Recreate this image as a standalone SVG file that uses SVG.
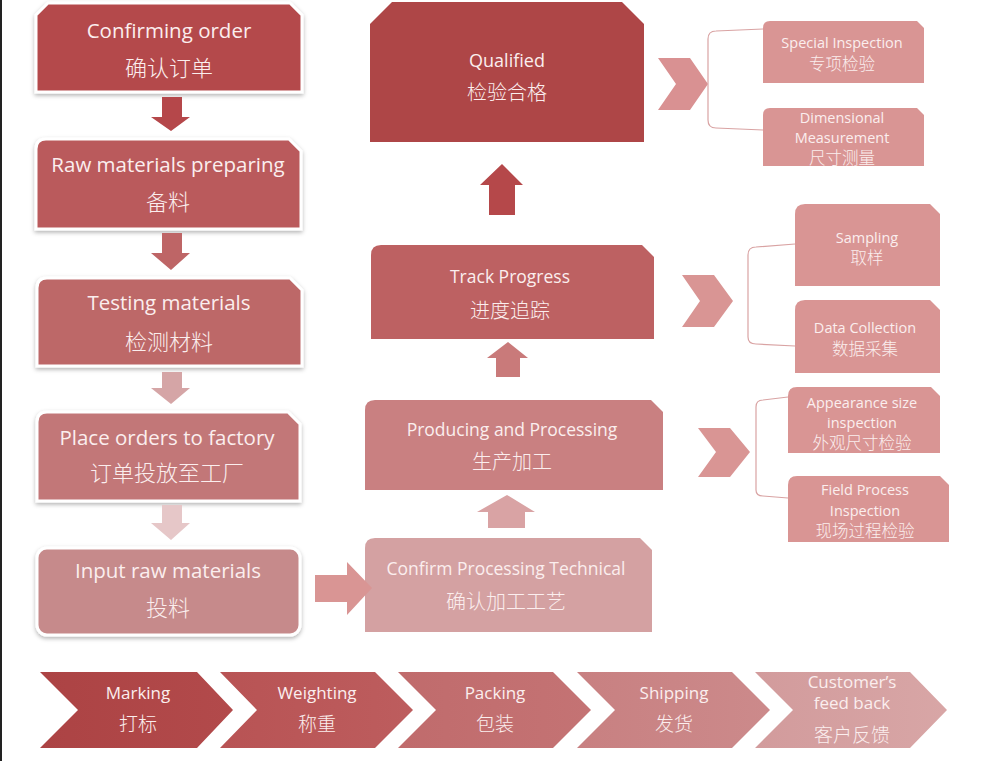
<svg xmlns="http://www.w3.org/2000/svg" width="1000" height="761" viewBox="0 0 1000 761">
<style>
.en{font-family:"Open Sans","Liberation Sans",sans-serif;fill:#FBEEEE;text-anchor:middle}
.zh{font-family:"Noto Sans CJK SC","Noto Sans",sans-serif;fill:#FBEEEE;text-anchor:middle;font-weight:300}
.sm{font-size:14.5px}
.lb{stroke:#FFFFFF;stroke-width:3;filter:url(#sh)}
.br{fill:none;stroke:#D9A3A3;stroke-width:1.2}
</style>
<defs>
<filter id="sh" x="-10%" y="-10%" width="120%" height="130%">
<feDropShadow dx="0" dy="2" stdDeviation="2" flood-color="#000" flood-opacity="0.3"/>
</filter>
<linearGradient id="g1" x1="0" x2="1" y1="0" y2="0"><stop offset="0" stop-color="#AC4344"/><stop offset="1" stop-color="#B24A4B"/></linearGradient>
<linearGradient id="g2" x1="0" x2="1" y1="0" y2="0"><stop offset="0" stop-color="#B85354"/><stop offset="1" stop-color="#BD5D5E"/></linearGradient>
<linearGradient id="g3" x1="0" x2="1" y1="0" y2="0"><stop offset="0" stop-color="#C06B6C"/><stop offset="1" stop-color="#C47374"/></linearGradient>
<linearGradient id="g4" x1="0" x2="1" y1="0" y2="0"><stop offset="0" stop-color="#C88081"/><stop offset="1" stop-color="#CC8A8B"/></linearGradient>
<linearGradient id="g5" x1="0" x2="1" y1="0" y2="0"><stop offset="0" stop-color="#D29B9C"/><stop offset="1" stop-color="#D8A6A6"/></linearGradient>
</defs>
<rect x="0" y="0" width="1000" height="761" fill="#FFFFFF"/>
<rect x="0" y="0" width="2" height="761" fill="#222222"/>

<!-- left column -->
<g id="confirming-order">
<path class="lb" d="M48,3 L290,3 L302,15 L302,92 L36,92 L36,15 Z" fill="#B44A4C"/>
<text class="en" x="169" y="38" font-size="20.5">Confirming order</text>
<text class="zh" x="169" y="76" font-size="22">确认订单</text>
</g>
<g id="raw-materials">
<path class="lb" d="M46,139 L289,139 L301,151 L301,229 L36,229 L36,149 Q36,139 46,139 Z" fill="#BA5A5B"/>
<text class="en" x="168" y="172" font-size="20.5">Raw materials preparing</text>
<text class="zh" x="168" y="210" font-size="22">备料</text>
</g>
<g id="testing-materials">
<path class="lb" d="M47,278 L290,278 L302,290 L302,366 L37,366 L37,288 Q37,278 47,278 Z" fill="#BD6768"/>
<text class="en" x="169" y="310" font-size="20.5">Testing materials</text>
<text class="zh" x="169" y="350" font-size="22">检测材料</text>
</g>
<g id="place-orders">
<path class="lb" d="M47,412 L288,412 L300,424 L300,501 L37,501 L37,422 Q37,412 47,412 Z" fill="#C27778"/>
<text class="en" x="167" y="445" font-size="20.5">Place orders to factory</text>
<text class="zh" x="167" y="481" font-size="22">订单投放至工厂</text>
</g>
<g id="input-raw">
<rect class="lb" x="37" y="548" width="263" height="87" rx="10" fill="#C68A8B"/>
<text class="en" x="168" y="578" font-size="20.5">Input raw materials</text>
<text class="zh" x="168" y="616" font-size="22">投料</text>
</g>

<!-- middle column -->
<g id="qualified">
<path d="M392,2 L622,2 L644,24 L644,142 L370,142 L370,24 Z" fill="#AE4647"/>
<text class="en" x="507" y="67" font-size="18">Qualified</text>
<text class="zh" x="507" y="100" font-size="20">检验合格</text>
</g>
<g id="track-progress">
<path d="M381,245 L642,245 L654,257 L654,339 L371,339 L371,255 Q371,245 381,245 Z" fill="#BD6162"/>
<text class="en" x="510" y="283" font-size="17.5">Track Progress</text>
<text class="zh" x="510" y="318" font-size="20">进度追踪</text>
</g>
<g id="producing">
<path d="M375,400 L651,400 L663,412 L663,490 L365,490 L365,410 Q365,400 375,400 Z" fill="#C98081"/>
<text class="en" x="512" y="436" font-size="17.5">Producing and Processing</text>
<text class="zh" x="512" y="469" font-size="20">生产加工</text>
</g>
<g id="confirm-processing">
<path d="M375,538 L640,538 L652,550 L652,632 L365,632 L365,548 Q365,538 375,538 Z" fill="#D4A1A2"/>
<text class="en" x="506" y="575" font-size="17.5">Confirm Processing Technical</text>
<text class="zh" x="506" y="609" font-size="20">确认加工工艺</text>
</g>

<!-- right column -->
<g id="special-inspection">
<path d="M770,21 L917,21 L924,28 L924,83 L763,83 L763,28 Q763,21 770,21 Z" fill="#D99594"/>
<text class="en sm" x="842" y="48">Special Inspection</text>
<text class="zh" x="842" y="70" font-size="16.5">专项检验</text>
</g>
<g id="dimensional-measurement">
<path d="M770,108 L917,108 L924,115 L924,166 L763,166 L763,115 Q763,108 770,108 Z" fill="#D99594"/>
<text class="en sm" x="842" y="123">Dimensional</text>
<text class="en sm" x="842" y="143">Measurement</text>
<text class="zh" x="842" y="164" font-size="16.5">尺寸测量</text>
</g>
<g id="sampling">
<path d="M805,204 L930,204 L940,214 L940,286 L795,286 L795,214 Q795,204 805,204 Z" fill="#D99594"/>
<text class="en sm" x="867" y="243">Sampling</text>
<text class="zh" x="867" y="264" font-size="16.5">取样</text>
</g>
<g id="data-collection">
<path d="M805,300 L930,300 L940,310 L940,373 L795,373 L795,310 Q795,300 805,300 Z" fill="#D99594"/>
<text class="en sm" x="865" y="333">Data Collection</text>
<text class="zh" x="865" y="355" font-size="16.5">数据采集</text>
</g>
<g id="appearance-size">
<path d="M797,387 L931,387 L940,396 L940,453 L788,453 L788,396 Q788,387 797,387 Z" fill="#D99594"/>
<text class="en sm" x="862" y="408">Appearance size</text>
<text class="en sm" x="862" y="428">inspection</text>
<text class="zh" x="862" y="449" font-size="16.5">外观尺寸检验</text>
</g>
<g id="field-process">
<path d="M797,476 L940,476 L949,485 L949,542 L788,542 L788,485 Q788,476 797,476 Z" fill="#D99594"/>
<text class="en sm" x="865" y="495">Field Process</text>
<text class="en sm" x="865" y="516">Inspection</text>
<text class="zh" x="865" y="537" font-size="16.5">现场过程检验</text>
</g>

<!-- bottom chevrons -->
<g id="marking">
<path d="M40,672 L197,672 L233,710 L197,748 L40,748 L78,710 Z" fill="url(#g1)"/>
<text class="en" x="138" y="699" font-size="17">Marking</text>
<text class="zh" x="138" y="731" font-size="19">打标</text>
</g>
<g id="weighting">
<path d="M220,672 L375,672 L413,710 L375,748 L220,748 L257,710 Z" fill="url(#g2)"/>
<text class="en" x="317" y="699" font-size="17">Weighting</text>
<text class="zh" x="317" y="731" font-size="19">称重</text>
</g>
<g id="packing">
<path d="M398,672 L553,672 L591,710 L553,748 L398,748 L436,710 Z" fill="url(#g3)"/>
<text class="en" x="495" y="699" font-size="17">Packing</text>
<text class="zh" x="495" y="731" font-size="19">包装</text>
</g>
<g id="shipping">
<path d="M577,672 L732,672 L770,710 L732,748 L577,748 L615,710 Z" fill="url(#g4)"/>
<text class="en" x="674" y="699" font-size="17">Shipping</text>
<text class="zh" x="674" y="731" font-size="19">发货</text>
</g>
<g id="customer-feedback">
<path d="M755,672 L910,672 L947,710 L910,748 L755,748 L793,710 Z" fill="url(#g5)"/>
<text class="en" x="852" y="688" font-size="17">Customer’s</text>
<text class="en" x="852" y="709" font-size="17">feed back</text>
<text class="zh" x="852" y="742" font-size="19">客户反馈</text>
</g>

<!-- connectors -->
<g id="connectors">
<path d="M162,97 L182,97 L182,117 L190,117 L171,131 L151,117 L162,117 Z" fill="#B5474A"/>
<path d="M162,233 L182,233 L182,253 L190,253 L171,270 L151,253 L162,253 Z" fill="#BE6566"/>
<path d="M162,372 L182,372 L182,388 L190,388 L171,404 L151,388 L162,388 Z" fill="#D5A5A6"/>
<path d="M162,505 L182,505 L182,523 L190,523 L171,540 L151,523 L162,523 Z" fill="#E6C7C8"/>
<path d="M315,575 L347,575 L347,562 L372,588 L347,615 L347,602 L315,602 Z" fill="#D99594"/>
<path d="M488,528 L525,528 L525,512 L535,512 L507,495 L477,512 L488,512 Z" fill="#D9A3A4"/>
<path d="M496,377 L520,377 L520,358 L528,358 L508,342 L487,358 L496,358 Z" fill="#C97A7A"/>
<path d="M489,215 L515,215 L515,185 L523,185 L502,164 L480,185 L489,185 Z" fill="#B5484A"/>
<path d="M658,58 L690,58 L708,84 L690,110 L658,110 L676,84 Z" fill="#D99192"/>
<path d="M682,275 L714,275 L733,301 L714,327 L682,327 L700,301 Z" fill="#D99594"/>
<path d="M698,428 L730,428 L750,452 L730,477 L698,477 L716,452 Z" fill="#D99594"/>
<path class="br" d="M763,29 L716,31 Q708,31 708,39 L708,120 Q708,128 716,128 L763,130"/>
<path class="br" d="M795,244 L756,247 Q748,247 748,255 L748,337 Q748,344 756,344 L795,346"/>
<path class="br" d="M788,397 L763,400 Q756,400 756,407 L756,490 Q756,496 763,496 L788,498"/>
</g>
</svg>
